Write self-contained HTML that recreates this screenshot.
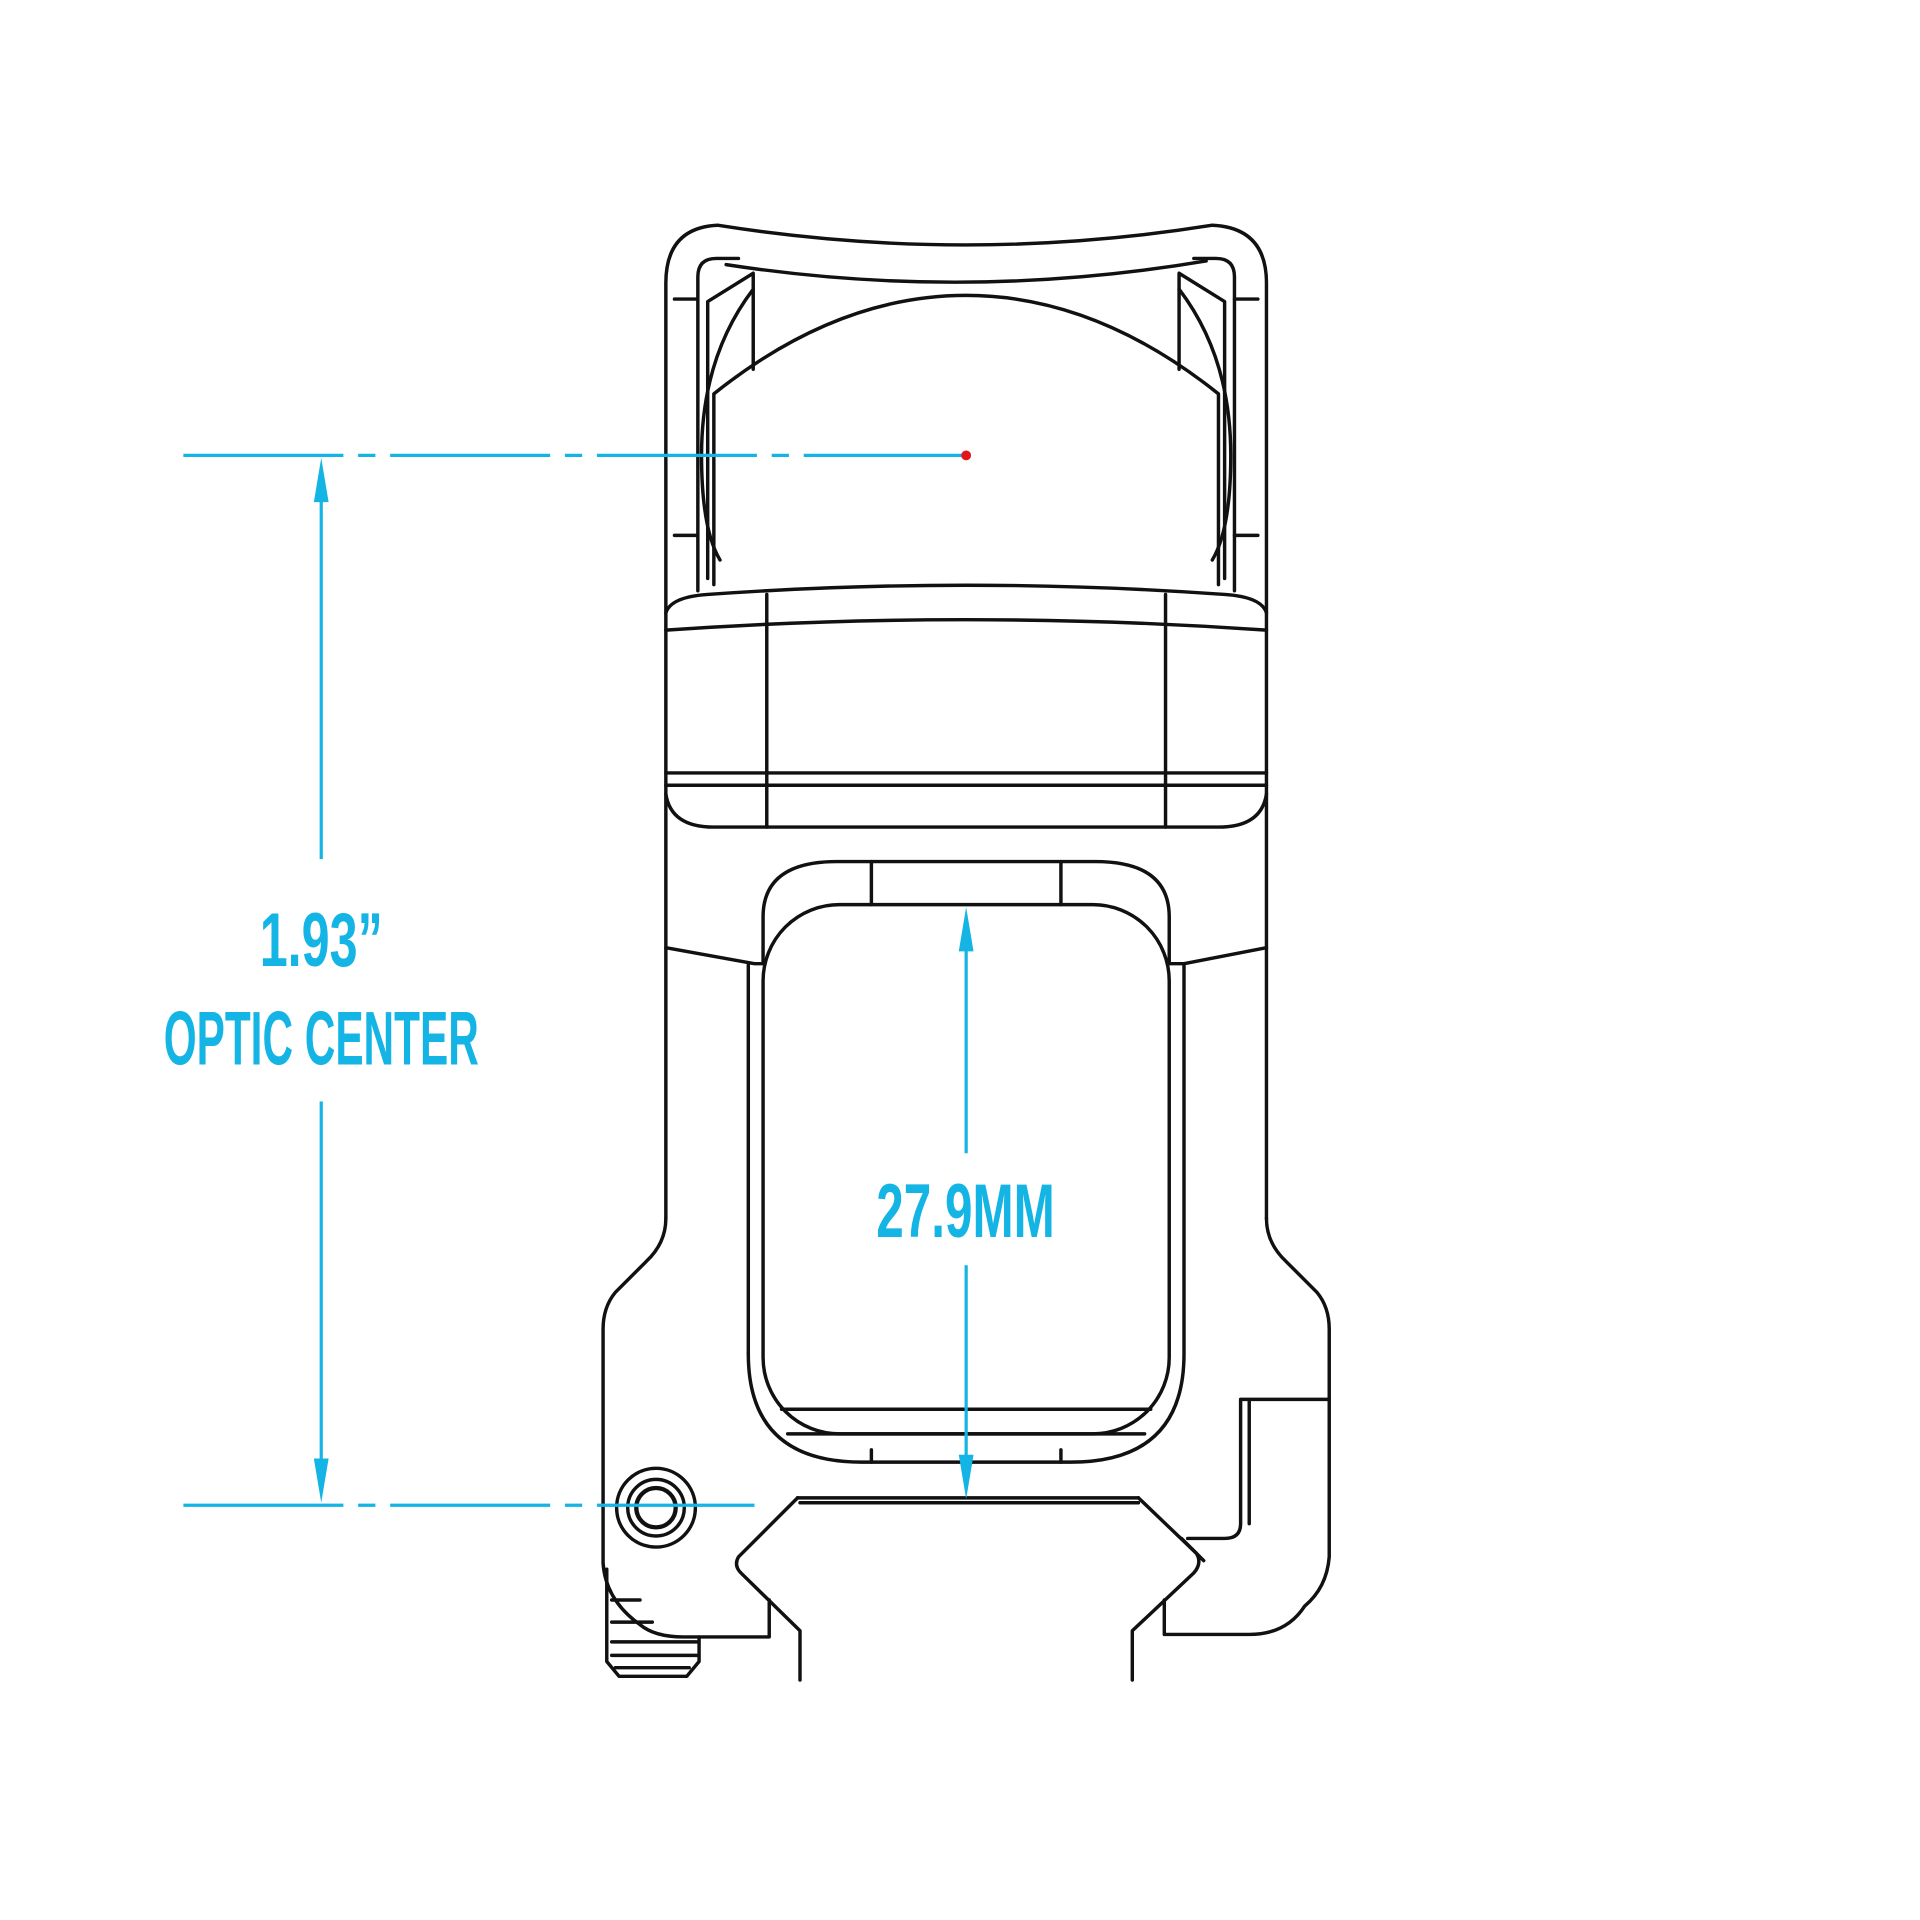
<!DOCTYPE html>
<html><head><meta charset="utf-8"><style>html,body{margin:0;padding:0;background:#fff}svg{display:block}</style></head>
<body>
<svg width="1920" height="1920" viewBox="0 0 1560 1560" xmlns="http://www.w3.org/2000/svg">
<rect width="1560" height="1560" fill="#fff"/>
<g fill="none" stroke="#111" stroke-width="2.8" stroke-linejoin="round" stroke-linecap="round">
<path d="M541,990 L541,230 Q541,185 583,183 Q785,215 985,183 Q1029,185 1029,230 L1029,990"/>
<path d="M590,215 Q785,245 980,212"/>
<path d="M567,480 L567,225 Q567,210 582,210 L600,210"/>
<path d="M1003,480 L1003,225 Q1003,210 988,210 L970,210"/>
<path d="M575,470 L575,245 L612,222 L612,300"/>
<path d="M995,470 L995,245 L958,222 L958,300"/>
<path d="M612,235 Q570,290 570,370 Q570,430 585,455"/>
<path d="M958,235 Q1000,290 1000,370 Q1000,430 985,455"/>
<path d="M580,475 L580,320 Q680,240 785,240 Q890,240 990,320 L990,475"/>
<path d="M548,243 L567,243 M548,435 L567,435 M1003,243 L1022,243 M1003,435 L1022,435"/>
<path d="M541,498 Q545,485 575,483 Q785,468 995,483 Q1025,485 1029,498"/>
<path d="M541,512 Q785,495 1029,512"/>
<path d="M623,483 L623,672 M947,483 L947,672"/>
<path d="M541,628 L1029,628 M541,638 L1029,638"/>
<path d="M541,645 Q545,672 580,672 L990,672 Q1025,672 1029,645"/>
<path d="M608,1100 L608,783 M541,770 L613,783 L620,783 L620,745 Q620,700 680,700 L890,700 Q950,700 950,745 L950,783 L962,783 L1029,770"/>
<path d="M962,783 L962,1100 Q962,1188 870,1188 L700,1188 Q608,1188 608,1100"/>
<rect x="620" y="735" width="330" height="430" rx="62"/>
<path d="M708,700 L708,735 M862,700 L862,735 M708,1178 L708,1188 M862,1178 L862,1188"/>
<path d="M635,1145 L935,1145 M640,1165 L930,1165"/>
<path d="M541,990 Q541,1010 525,1025 L500,1050 Q490,1062 490,1080 L490,1270 Q492,1300 520,1320 Q532,1330 555,1330 L625,1330 L625,1300"/>
<path d="M1029,990 Q1029,1010 1045,1025 L1070,1050 Q1080,1062 1080,1080 L1080,1265 Q1078,1290 1060,1305 Q1045,1328 1015,1328 L946,1328 L946,1300"/>
<path d="M1080,1137 L1015,1137 L1008,1137 L1008,1238 Q1008,1250 995,1250 L965,1250 M1015,1137 L1015,1238"/>
<path d="M648,1217 L925,1217 M650,1221 L925,1221"/>
<path d="M648,1217 L600,1265 Q596,1272 602,1278 L650,1325 L650,1365"/>
<path d="M925,1217 L972,1262 Q977,1270 970,1278 L920,1325 L920,1365"/>
<path d="M960,1250 L978,1268"/>
<circle cx="533" cy="1225" r="32"/>
<circle cx="533" cy="1225" r="23"/>
<circle cx="533" cy="1225" r="16" stroke-width="3.5"/>
<path d="M493,1275 L493,1350 L503,1362 L558,1362 L568,1350 L568,1330"/>
<path d="M497,1300 L520,1300 M497,1318 L530,1318 M497,1334 L566,1334 M497,1345 L566,1345 M500,1355 L560,1355"/>
</g>
<g stroke="#14b4e4" stroke-width="2.6" fill="none">
<path d="M149,370 L785,370" stroke-dasharray="130,12,14,12"/>
<path d="M149,1223 L613,1223" stroke-dasharray="130,12,14,12"/>
<path d="M261,385 L261,698 M261,895 L261,1208"/>
<path d="M785,752 L785,937 M785,1028 L785,1203"/>
</g>
<g fill="#14b4e4">
<polygon points="261,372 255,408 267,408"/>
<polygon points="261,1221 255,1185 267,1185"/>
<polygon points="785,737 779,773 791,773"/>
<polygon points="785,1218 779,1182 791,1182"/>
</g>
<circle cx="785" cy="370" r="4" fill="#e0161b"/>
<g fill="#14b4e4" font-family="'Liberation Sans', sans-serif" font-weight="bold" font-size="62">
<text x="211" y="785" textLength="100" lengthAdjust="spacingAndGlyphs">1.93”</text>
<text x="133" y="865" textLength="256" lengthAdjust="spacingAndGlyphs">OPTIC CENTER</text>
<text x="712" y="1005" textLength="145" lengthAdjust="spacingAndGlyphs">27.9MM</text>
</g>
</svg>
</body></html>
